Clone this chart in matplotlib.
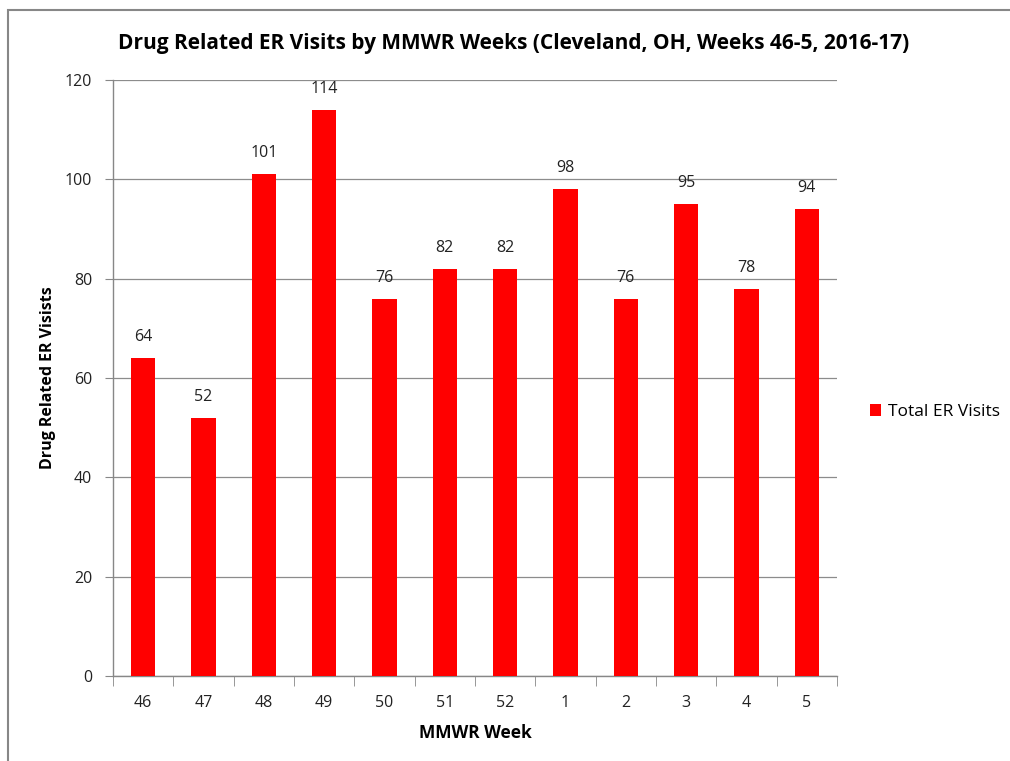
import matplotlib.pyplot as plt
import matplotlib.patches as mpatches

# Data
weeks = ["46", "47", "48", "49", "50", "51", "52", "1", "2", "3", "4", "5"]
visits = [64, 52, 101, 114, 76, 82, 82, 98, 76, 95, 78, 94]
series_name = "Total ER Visits"

plt.rcParams['font.family'] = ['Open Sans', 'DejaVu Sans']

W, H = 1010, 761
fig = plt.figure(figsize=(W / 100, H / 100), dpi=100)

# Chart-area frame (only top/left edges visible in the crop)
fig.patches.append(mpatches.Rectangle((8 / W, -0.1), 1.2, 1 - 10 / H + 0.1,
                                      transform=fig.transFigure, fill=False,
                                      edgecolor='#878787', linewidth=1.5))

left, right, top, bottom = 113, 837, 80, 676
ax = fig.add_axes([left / W, 1 - bottom / H, (right - left) / W, (bottom - top) / H])

x = range(len(weeks))
bars = ax.bar(x, visits, width=0.4, color='#ff0000', zorder=3)

for bar, v in zip(bars, visits):
    ax.text(bar.get_x() + bar.get_width() / 2, v + 2.6, str(v),
            ha='center', va='bottom', fontsize=11.5, color='#222222')

ax.set_xlim(-0.5, len(weeks) - 0.5)
ax.set_ylim(0, 120)
ax.set_yticks(range(0, 121, 20))
ax.set_xticks(x)
ax.set_xticklabels(weeks)

# Category tick marks between bars
ax.set_xticks([i - 0.5 for i in range(len(weeks) + 1)], minor=True)
ax.tick_params(axis='x', which='major', length=0, pad=14, labelsize=11.5, labelcolor='#222222')
ax.tick_params(axis='x', which='minor', length=7, color='#878787')
ax.tick_params(axis='y', length=6, color='#878787', labelsize=11.5, labelcolor='#222222', pad=9)

ax.grid(axis='y', color='#8c8c8c', linewidth=0.9, zorder=0)
ax.set_axisbelow(True)
for s in ['top', 'right']:
    ax.spines[s].set_visible(False)
for s in ['left', 'bottom']:
    ax.spines[s].set_color('#878787')
    ax.spines[s].set_linewidth(1.0)

ax.set_xlabel('MMWR Week', fontsize=12.5, fontweight='bold', labelpad=9)
ax.set_ylabel('Drug Related ER Visists', fontsize=11.5, fontweight='bold', labelpad=6)

fig.text(514 / W, 1 - 43 / H,
         'Drug Related ER Visits by MMWR Weeks (Cleveland, OH, Weeks 46-5, 2016-17)',
         ha='center', va='center', fontsize=15, fontweight='bold')

handle = mpatches.Patch(facecolor='#ff0000', label=series_name)
fig.legend(handles=[handle], loc='center left', bbox_to_anchor=(861 / W, 1 - 412 / H),
           frameon=False, fontsize=12.5, handlelength=0.65, handleheight=0.65,
           handletextpad=0.4, borderpad=0)

plt.savefig('out.png', dpi=100, facecolor='white')
plt.close()
